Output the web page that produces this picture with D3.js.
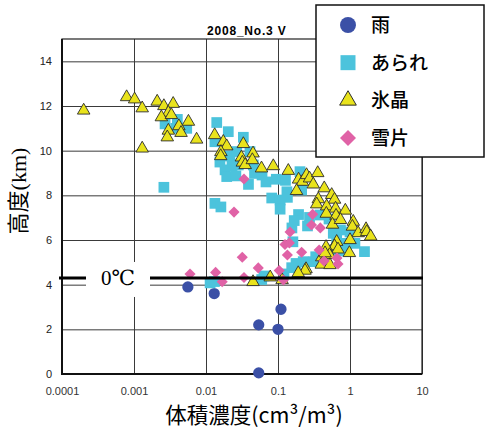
<!DOCTYPE html>
<html>
<head>
<meta charset="utf-8">
<script src="https://cdn.jsdelivr.net/npm/d3@7"></script>
<style>
  html, body { margin: 0; padding: 0; background: #fff; }
  svg { display: block; }
</style>
</head>
<body>
<svg id="chart" width="489" height="438"></svg>
<script>
// Volume concentration (cm3/m3) vs height (km) for four precipitation particle types
const title = "2008_No.3 V";
const seriesNames = ["雨", "あられ", "氷晶", "雪片"];
const xTickValues = [0.0001, 0.001, 0.01, 0.1, 1, 10];
const xTickLabels = ["0.0001", "0.001", "0.01", "0.1", "1", "10"];
const yTickValues = [0, 2, 4, 6, 8, 10, 12, 14];
const freezingLevel = 4.3;
const freezingLabel = "0℃";

// rain
const rain = [[0.0056,3.9],[0.013,3.6],[0.054,2.2],[0.11,2.9],[0.10,2.0],[0.054,0.05]];

// hail (graupel)
const hail = [
  [0.0026,8.36],[0.0040,11.4],[0.0054,11.0],[0.0027,11.2],[0.0038,11.0],
  [0.0141,11.26],[0.0204,10.85],[0.033,10.6],[0.0133,10.4],[0.0156,9.49],
  [0.0215,9.76],[0.0184,9.14],[0.0194,8.84],[0.0408,9.96],[0.0267,9.96],
  [0.0454,9.36],[0.0281,9.36],[0.0389,8.49],[0.0472,8.98],[0.0681,8.60],
  [0.0946,8.72],[0.127,8.67],[0.202,9.06],[0.213,8.24],[0.133,8.16],
  [0.0818,7.88],[0.107,7.79],[0.135,7.91],[0.107,7.38],[0.0133,7.64],
  [0.0161,7.48],[0.193,7.14],[0.168,6.87],[0.274,7.01],[0.257,6.63],
  [0.383,7.12],[0.738,6.45],[1.0,6.36],[0.586,6.30],[0.161,5.92],
  [0.155,4.76],[0.178,4.95],[0.334,5.25],[0.405,5.11],[0.55,5.55],
  [0.807,5.51],[1.17,5.85],[1.59,5.48],[0.653,6.08],[0.90,5.85],
  [0.121,4.48],[0.064,4.39],[0.0594,4.23],[0.0114,4.08],[0.0131,4.14],
  [0.224,5.03],[0.309,5.03],[0.511,6.94],[0.156,6.54],[0.023,9.31],
  [0.026,8.87],[0.06,8.91]
];

// ice crystals
const ice = [
  [0.0002,11.8],[0.00079,12.4],[0.00102,12.3],[0.0013,11.9],[0.0021,12.2],
  [0.0026,12.0],[0.0035,12.1],[0.0030,11.7],[0.0024,11.5],[0.0033,11.6],
  [0.0057,11.3],[0.0042,11.1],[0.0030,10.9],[0.0029,10.6],[0.0045,10.8],
  [0.0074,10.5],[0.0013,10.1],[0.0132,10.7],[0.0174,10.4],[0.0194,10.2],
  [0.0161,9.94],[0.016,9.76],[0.033,10.3],[0.045,9.88],[0.031,9.70],
  [0.032,9.47],[0.035,9.36],[0.044,9.58],[0.059,9.21],[0.086,9.31],
  [0.139,9.10],[0.193,8.71],[0.218,8.61],[0.249,8.91],[0.274,8.76],
  [0.356,9.0],[0.309,8.49],[0.181,8.20],[0.439,8.32],[0.557,8.02],
  [0.61,7.81],[0.363,7.83],[0.345,7.60],[0.474,7.51],[0.63,7.41],
  [0.861,7.32],[0.469,7.18],[0.64,7.09],[0.571,6.69],[0.738,6.90],
  [1.11,6.82],[1.08,6.60],[1.30,6.31],[1.67,6.49],[1.71,6.36],
  [1.94,6.16],[1.0,6.0],[0.653,5.92],[0.61,5.72],[0.465,5.69],
  [0.681,5.58],[0.98,5.42],[0.519,5.33],[0.405,5.23],[0.45,5.41],
  [0.399,4.90],[0.245,4.70],[0.237,4.63],[0.191,4.52],[0.114,4.21],
  [0.078,4.33],[0.045,4.12],[0.527,4.88]
];

// snowflakes
const snow = [
  [0.0060,4.48],[0.0136,4.55],[0.0168,4.13],[0.0319,5.23],[0.0337,4.32],
  [0.0245,7.25],[0.0337,8.73],[0.0532,4.75],[0.104,4.63],[0.119,4.21],
  [0.147,6.36],[0.125,5.80],[0.144,5.87],[0.135,5.33],[0.213,5.45],
  [0.303,7.15],[0.292,6.67],[0.387,6.54],[0.373,5.55],[0.436,5.06],
  [0.659,5.19],[0.681,4.93]
];

const svg = d3.select("#chart");
const margin = { left: 62, right: 67, top: 39, bottom: 64 };
const W = 489, H = 438;
const x = d3.scaleLog().domain([0.0001, 10]).range([margin.left, W - margin.right]);
const y = d3.scaleLinear().domain([0, 15]).range([H - margin.bottom, margin.top]);

const sansJP = "'Noto Sans CJK JP', 'Noto Sans', sans-serif";
const arial = "'Liberation Sans', Arial, sans-serif";

// grid
svg.append("g")
  .attr("transform", `translate(0,${y(0)})`)
  .call(d3.axisBottom(x).tickValues(xTickValues).tickSize(-(y(0) - y(15))).tickFormat(""))
  .call(g => g.select(".domain").remove())
  .call(g => g.selectAll("line").attr("stroke", "#3a3a3a").attr("stroke-width", 1));
svg.append("g")
  .attr("transform", `translate(${x(0.0001)},0)`)
  .call(d3.axisLeft(y).tickValues(yTickValues).tickSize(-(x(10) - x(0.0001))).tickFormat(""))
  .call(g => g.select(".domain").remove())
  .call(g => g.selectAll("line").attr("stroke", "#3a3a3a").attr("stroke-width", 1));

// frame
svg.append("rect")
  .attr("x", x(0.0001)).attr("y", y(15))
  .attr("width", x(10) - x(0.0001)).attr("height", y(0) - y(15))
  .attr("fill", "none").attr("stroke", "#222").attr("stroke-width", 1.2);
svg.append("path")
  .attr("d", `M${x(0.0001)},${y(15)}V${y(0)}H${x(10)}`)
  .attr("fill", "none").attr("stroke", "#111").attr("stroke-width", 2);

// tick labels
svg.append("g")
  .attr("transform", `translate(0,${y(0)})`)
  .call(d3.axisBottom(x).tickValues(xTickValues).tickSize(0).tickPadding(13)
    .tickFormat((d, i) => xTickLabels[i]))
  .call(g => g.select(".domain").remove())
  .call(g => g.selectAll("text").attr("font-family", arial).attr("font-size", 11).attr("fill", "#333"));
svg.append("g")
  .attr("transform", `translate(${x(0.0001)},0)`)
  .call(d3.axisLeft(y).tickValues(yTickValues).tickSize(0).tickPadding(10).tickFormat(d3.format("d")))
  .call(g => g.select(".domain").remove())
  .call(g => g.selectAll("text").attr("font-family", arial).attr("font-size", 11).attr("fill", "#222"));

// markers
const sym = (type, size) => d3.symbol().type(type).size(size)();
const layers = [
  { data: rain, path: sym(d3.symbolCircle, 100), fill: "#3b50a6", stroke: "none", rot: 0 },
  { data: hail, path: sym(d3.symbolSquare, 115), fill: "#4cc3dc", stroke: "none", rot: 0 },
  { data: ice, path: sym(d3.symbolTriangle, 68), fill: "#e9e31c", stroke: "#2b2b2b", rot: 0 },
  { data: snow, path: sym(d3.symbolSquare, 62), fill: "#e062a6", stroke: "none", rot: 45 }
];
layers.forEach(l => {
  svg.append("g").selectAll("path").data(l.data).join("path")
    .attr("d", l.path)
    .attr("transform", d => `translate(${x(d[0])},${y(d[1])}) rotate(${l.rot})`)
    .attr("fill", l.fill)
    .attr("stroke", l.stroke)
    .attr("stroke-width", 0.9);
});

// freezing level
svg.append("line")
  .attr("x1", x(0.0001) - 3).attr("x2", x(10) + 1)
  .attr("y1", y(freezingLevel)).attr("y2", y(freezingLevel))
  .attr("stroke", "#000").attr("stroke-width", 3);
svg.append("rect")
  .attr("x", 86).attr("y", y(freezingLevel) - 16)
  .attr("width", 64).attr("height", 35)
  .attr("fill", "#fff");
svg.append("text")
  .attr("x", 118).attr("y", y(freezingLevel) + 7)
  .attr("text-anchor", "middle")
  .attr("font-family", "'Liberation Serif', 'DejaVu Serif', serif")
  .attr("font-size", 21)
  .text(freezingLabel);

// title
svg.append("text")
  .attr("x", 207).attr("y", 35)
  .attr("font-family", arial).attr("font-weight", "bold")
  .attr("font-size", 12).attr("letter-spacing", 0.8)
  .text(title);

// axis titles
const yTitle = svg.append("text")
  .attr("transform", `translate(26,${191}) rotate(-90)`)
  .attr("text-anchor", "middle")
  .attr("font-size", 22);
yTitle.append("tspan").attr("font-family", sansJP).text("高度");
yTitle.append("tspan").attr("font-family", "'Liberation Serif', serif").text("(km)");

svg.append("text")
  .attr("x", 254).attr("y", 423)
  .attr("text-anchor", "middle")
  .attr("font-family", sansJP)
  .attr("font-size", 21.5)
  .text("体積濃度(cm³/m³)");

// legend
const lg = svg.append("g");
lg.append("rect")
  .attr("x", 316).attr("y", 5).attr("width", 168).attr("height", 152)
  .attr("fill", "#fff").attr("stroke", "#111").attr("stroke-width", 1.5);
const legendSyms = [
  { path: sym(d3.symbolCircle, 200), fill: "#3b50a6", stroke: "none", rot: 0 },
  { path: sym(d3.symbolSquare, 225), fill: "#4cc3dc", stroke: "none", rot: 0 },
  { path: sym(d3.symbolTriangle, 120), fill: "#e9e31c", stroke: "#2b2b2b", rot: 0 },
  { path: sym(d3.symbolSquare, 128), fill: "#e062a6", stroke: "none", rot: 45 }
];
const legendY = d3.scalePoint().domain(seriesNames).range([25, 138]);
seriesNames.forEach((name, i) => {
  const s = legendSyms[i];
  lg.append("path")
    .attr("d", s.path)
    .attr("transform", `translate(348,${legendY(name)}) rotate(${s.rot})`)
    .attr("fill", s.fill).attr("stroke", s.stroke).attr("stroke-width", 1);
  lg.append("text")
    .attr("x", 371).attr("y", legendY(name) + 7)
    .attr("font-family", sansJP).attr("font-size", 19).attr("font-weight", 500)
    .text(name);
});
</script>
</body>
</html>
